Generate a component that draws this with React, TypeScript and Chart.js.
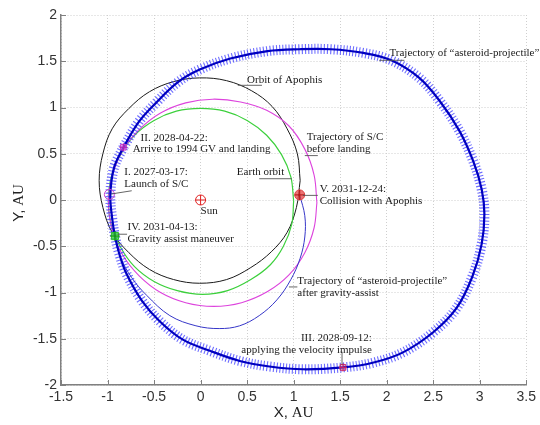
import React, { useEffect, useRef } from "react";
import { Chart, registerables } from "chart.js";
Chart.register(...registerables);

type P = { x: number; y: number };
const pts = (a: number[][]): P[] => a.map(([x, y]) => ({ x, y }));

// ---- axis ticks ----
const X_TICKS = [-1.5, -1, -0.5, 0, 0.5, 1, 1.5, 2, 2.5, 3, 3.5];
const X_TICK_LABELS = ["-1.5", "-1", "-0.5", "0", "0.5", "1", "1.5", "2", "2.5", "3", "3.5"];
const Y_TICKS = [-2, -1.5, -1, -0.5, 0, 0.5, 1, 1.5, 2];
const Y_TICK_LABELS = ["-2", "-1.5", "-1", "-0.5", "0", "0.5", "1", "1.5", "2"];
const X_TITLE = ["X,", " AU"];
const Y_TITLE = ["Y,", " AU"];

// ---- orbits / trajectories (AU) ----
const EARTH_ORBIT = pts([
  [1.0, -0.01], [0.97, 0.25], [0.87, 0.49], [0.71, 0.7], [0.5, 0.86], [0.26, 0.96], [0.0, 0.99],
  [-0.26, 0.96], [-0.5, 0.86], [-0.71, 0.7], [-0.86, 0.49], [-0.96, 0.25], [-0.99, -0.01],
  [-0.96, -0.27], [-0.86, -0.51], [-0.71, -0.72], [-0.5, -0.88], [-0.25, -0.98], [0.02, -1.02],
  [0.29, -0.98], [0.54, -0.86], [0.75, -0.7], [0.89, -0.5], [0.98, -0.26], [1.0, -0.01],
]);

const APOPHIS_ORBIT = pts([
  [1.07, 0.21], [1.04, 0.5], [0.93, 0.77], [0.77, 1.01], [0.55, 1.18], [0.28, 1.29], [-0.01, 1.32],
  [-0.29, 1.28], [-0.55, 1.17], [-0.77, 0.99], [-0.95, 0.77], [-1.05, 0.5], [-1.09, 0.21],
  [-1.05, -0.08], [-0.95, -0.35], [-0.77, -0.57], [-0.55, -0.75], [-0.29, -0.86], [-0.01, -0.9],
  [0.28, -0.86], [0.54, -0.73], [0.76, -0.56], [0.93, -0.35], [1.03, -0.08], [1.07, 0.21],
]);

const SC_BEFORE_LANDING = pts([
  [1.25, -0.03], [1.22, 0.27], [1.12, 0.55], [0.95, 0.8], [0.71, 0.97], [0.43, 1.06], [0.13, 1.09],
  [-0.16, 1.05], [-0.43, 0.94], [-0.66, 0.76], [-0.84, 0.53], [-0.95, 0.26], [-0.99, -0.03],
  [-0.95, -0.32], [-0.84, -0.59], [-0.66, -0.82], [-0.43, -1.0], [-0.16, -1.11], [0.14, -1.15],
  [0.44, -1.11], [0.72, -0.99], [0.95, -0.81], [1.12, -0.57], [1.22, -0.3], [1.25, -0.03],
]);

const AFTER_GRAVITY_ASSIST = pts([
  [-0.92, -0.39], [-0.86, -0.62], [-0.74, -0.84], [-0.58, -1.03], [-0.33, -1.25], [-0.05, -1.36],
  [0.2, -1.39], [0.42, -1.36], [0.63, -1.25], [0.82, -1.08], [0.97, -0.86], [1.07, -0.63],
  [1.12, -0.4], [1.12, -0.17], [1.065, 0.055],
]);

const PROJECTILE = pts([
  [-0.83, 0.57], [-0.93, 0.35], [-0.97, 0.05], [-0.95, -0.2], [-0.92, -0.39], [-0.88, -0.56],
  [-0.8, -0.79], [-0.63, -1.09], [-0.44, -1.31], [-0.19, -1.51], [0.1, -1.63], [0.42, -1.74],
  [0.74, -1.8], [1.1, -1.83], [1.53, -1.81], [1.85, -1.76], [2.17, -1.65], [2.5, -1.43],
  [2.75, -1.17], [2.92, -0.83], [3.02, -0.48], [3.05, -0.15], [3.02, 0.12], [2.93, 0.42],
  [2.78, 0.75], [2.57, 1.07], [2.35, 1.32], [2.05, 1.51], [1.75, 1.59], [1.4, 1.63], [1.06, 1.63],
  [0.72, 1.61], [0.32, 1.53], [-0.01, 1.41], [-0.25, 1.27], [-0.47, 1.06], [-0.66, 0.85], [-0.83, 0.57],
]);

// ---- events ----
const SUN: P = { x: 0, y: 0 };
const LAUNCH: P = { x: -0.98, y: 0.06 };
const LANDING: P = { x: -0.83, y: 0.57 };
const IMPULSE: P = { x: 1.53, y: -1.81 };
const GRAVITY_ASSIST: P = { x: -0.92, y: -0.39 };
const COLLISION: P = { x: 1.065, y: 0.055 };

// ---- annotation texts (anchor in AU) ----
const NOTES = [
  { lines: ["Orbit of Apophis"], at: [0.5, 1.3], align: "left" },
  { lines: ["Trajectory of “asteroid-projectile”"], at: [2.03, 1.59], align: "left" },
  { lines: ["Trajectory of S/C", "before landing"], at: [1.14, 0.68], align: "left" },
  { lines: ["Earth orbit"], at: [0.39, 0.3], align: "left" },
  { lines: ["V. 2031-12-24:", "Collision with Apophis"], at: [1.28, 0.12], align: "left" },
  { lines: ["II. 2028-04-22:"], at: [-0.645, 0.67], align: "left" },
  { lines: ["Arrive to 1994 GV and landing"], at: [-0.73, 0.55], align: "left" },
  { lines: ["I. 2027-03-17:", "Launch of S/C"], at: [-0.82, 0.3], align: "left" },
  { lines: ["Sun"], at: [0.0, -0.12], align: "left" },
  { lines: ["IV. 2031-04-13:", "Gravity assist maneuver"], at: [-0.785, -0.29], align: "left" },
  { lines: ["Trajectory of “asteroid-projectile”", "after gravity-assist"], at: [1.04, -0.875], align: "left" },
  { lines: ["III. 2028-09-12:", "applying the velocity impulse"], at: [1.84, -1.49], align: "right" },
];
const LEADERS = [
  [[0.4, 1.24], [0.66, 1.24]],
  [[1.92, 1.51], [2.19, 1.51]],
  [[1.12, 0.48], [1.26, 0.48]],
  [[0.63, 0.23], [0.98, 0.23]],
  [[1.1, 0.05], [1.26, 0.05]],
  [[-0.96, 0.065], [-0.74, 0.1]],
  [[-0.89, -0.37], [-0.79, -0.37]],
  [[0.95, -0.94], [1.04, -0.94]],
  [[1.52, -1.64], [1.52, -1.78]],
];

const SANS = '"Liberation Sans", Arial, sans-serif';
const SERIF = '"Liberation Serif", "Times New Roman", serif';

const overlay = {
  id: "overlay",
  afterDraw(chart: any) {
    const { ctx, chartArea: ca, scales } = chart;
    const xs = scales.x, ys = scales.y;
    ctx.save();
    // inward ticks
    ctx.strokeStyle = "#808080";
    ctx.lineWidth = 1;
    ctx.beginPath();
    X_TICKS.forEach((v) => {
      const px = Math.round(xs.getPixelForValue(v)) + 0.5;
      ctx.moveTo(px, ca.bottom);
      ctx.lineTo(px, ca.bottom - 5);
    });
    Y_TICKS.forEach((v) => {
      const py = Math.round(ys.getPixelForValue(v)) + 0.5;
      ctx.moveTo(ca.left, py);
      ctx.lineTo(ca.left + 5, py);
    });
    ctx.stroke();

    // leaders
    ctx.strokeStyle = "#555";
    ctx.lineWidth = 0.9;
    LEADERS.forEach(([a, b]) => {
      ctx.beginPath();
      ctx.moveTo(xs.getPixelForValue(a[0]), ys.getPixelForValue(a[1]));
      ctx.lineTo(xs.getPixelForValue(b[0]), ys.getPixelForValue(b[1]));
      ctx.stroke();
    });

    // notes
    ctx.fillStyle = "#1a1a1a";
    ctx.font = `11px ${SERIF}`;
    ctx.textBaseline = "middle";
    NOTES.forEach((n) => {
      ctx.textAlign = n.align as CanvasTextAlign;
      const px = xs.getPixelForValue(n.at[0]);
      const py = ys.getPixelForValue(n.at[1]);
      n.lines.forEach((t, i) => ctx.fillText(t, px, py + i * 12));
    });

    // axis titles
    const drawMixed = (parts: string[], cx: number, cy: number, rot: number) => {
      ctx.save();
      ctx.translate(cx, cy);
      ctx.rotate(rot);
      ctx.fillStyle = "#222";
      ctx.textAlign = "left";
      ctx.textBaseline = "middle";
      ctx.font = `15px ${SANS}`;
      const w1 = ctx.measureText(parts[0]).width;
      ctx.font = `15px ${SERIF}`;
      const w2 = ctx.measureText(parts[1]).width;
      const x0 = -(w1 + w2) / 2;
      ctx.font = `15px ${SANS}`;
      ctx.fillText(parts[0], x0, 0);
      ctx.font = `15px ${SERIF}`;
      ctx.fillText(parts[1], x0 + w1, 0);
      ctx.restore();
    };
    drawMixed(X_TITLE, (ca.left + ca.right) / 2, 413, 0);
    drawMixed(Y_TITLE, 19, (ca.top + ca.bottom) / 2 + 3, -Math.PI / 2);
    ctx.restore();
  },
};

const curve = (data: P[], color: string, width: number, order: number, extra: any = {}) => ({
  data,
  showLine: true,
  borderColor: color,
  borderWidth: width,
  pointRadius: 0,
  pointHoverRadius: 0,
  tension: 0.36,
  fill: false,
  order,
  ...extra,
});

const marker = (p: P, style: string, r: number, stroke: string, fill: string, order: number) => ({
  data: [p],
  showLine: false,
  pointStyle: style,
  pointRadius: r,
  pointHoverRadius: r,
  pointBorderColor: stroke,
  pointBackgroundColor: fill,
  pointBorderWidth: 1,
  order,
});

export default function App() {
  const ref = useRef<HTMLCanvasElement>(null);
  useEffect(() => {
    document.body.style.margin = "0";
    const font = { family: SANS, size: 14 };
    const chart = new Chart(ref.current as HTMLCanvasElement, {
      type: "scatter",
      data: {
        datasets: [
          marker(SUN, "cross", 5, "#e02020", "rgba(0,0,0,0)", 0),
          marker(SUN, "circle", 5, "#e02020", "rgba(0,0,0,0)", 0),
          marker(LAUNCH, "circle", 5, "#cc44cc", "rgba(0,0,0,0)", 0),
          marker(LANDING, "cross", 4, "#b020b0", "rgba(0,0,0,0)", 0),
          marker(LANDING, "rect", 4, "#cc44cc", "rgba(220,90,220,0.6)", 0),
          marker(IMPULSE, "cross", 4, "#cc2060", "rgba(0,0,0,0)", 0),
          marker(IMPULSE, "rect", 4, "#cc2060", "rgba(220,80,120,0.25)", 0),
          marker(GRAVITY_ASSIST, "cross", 5, "#109010", "rgba(0,0,0,0)", 0),
          marker(GRAVITY_ASSIST, "rect", 5, "#30c030", "rgba(60,210,60,0.8)", 0),
          marker(COLLISION, "cross", 5, "#b01010", "rgba(0,0,0,0)", 0),
          marker(COLLISION, "circle", 5, "#e04040", "rgba(230,70,70,0.75)", 0),
          curve(PROJECTILE, "#0000c0", 2.2, 1),
          curve(PROJECTILE, "rgba(60,60,255,0.75)", 10, 2, { borderDash: [1.1, 2.1], borderCapStyle: "butt" }),
          curve(AFTER_GRAVITY_ASSIST, "#3636c8", 1, 3),
          curve(SC_BEFORE_LANDING, "#dd44dd", 1.1, 4),
          curve(EARTH_ORBIT, "#3cd03c", 1.2, 5),
          curve(APOPHIS_ORBIT, "#1a1a1a", 1, 6),
        ] as any,
      },
      options: {
        responsive: false,
        animation: false,
        events: [],
        layout: { padding: { top: 15, right: 13, left: 0, bottom: 0 } },
        plugins: { legend: { display: false }, tooltip: { enabled: false } },
        scales: {
          x: {
            type: "linear",
            min: -1.5,
            max: 3.5,
            afterBuildTicks: (s: any) => {
              s.ticks = X_TICKS.map((value) => ({ value }));
            },
            afterFit: (s: any) => {
              s.height = 40;
            },
            ticks: {
              autoSkip: false,
              maxRotation: 0,
              padding: 4,
              color: "#333",
              font,
              callback: (v: any) => X_TICK_LABELS[X_TICKS.indexOf(Number(v))] ?? "",
            },
            grid: { color: "#cfcfcf", lineWidth: 1, drawTicks: false },
            border: { display: true, color: "#808080", width: 1.5, dash: [1, 2] },
          },
          y: {
            type: "linear",
            min: -2,
            max: 2,
            afterBuildTicks: (s: any) => {
              s.ticks = Y_TICKS.map((value) => ({ value }));
            },
            afterFit: (s: any) => {
              s.width = 61;
            },
            ticks: {
              autoSkip: false,
              padding: 4,
              color: "#333",
              font,
              callback: (v: any) => Y_TICK_LABELS[Y_TICKS.indexOf(Number(v))] ?? "",
            },
            grid: { color: "#cfcfcf", lineWidth: 1, drawTicks: false },
            border: { display: true, color: "#808080", width: 1.5, dash: [1, 2] },
          },
        },
      } as any,
      plugins: [overlay],
    });
    return () => chart.destroy();
  }, []);
  return (
    <div style={{ position: "relative", width: 540, height: 425 }}>
      <canvas ref={ref} width={540} height={425} />
    </div>
  );
}
